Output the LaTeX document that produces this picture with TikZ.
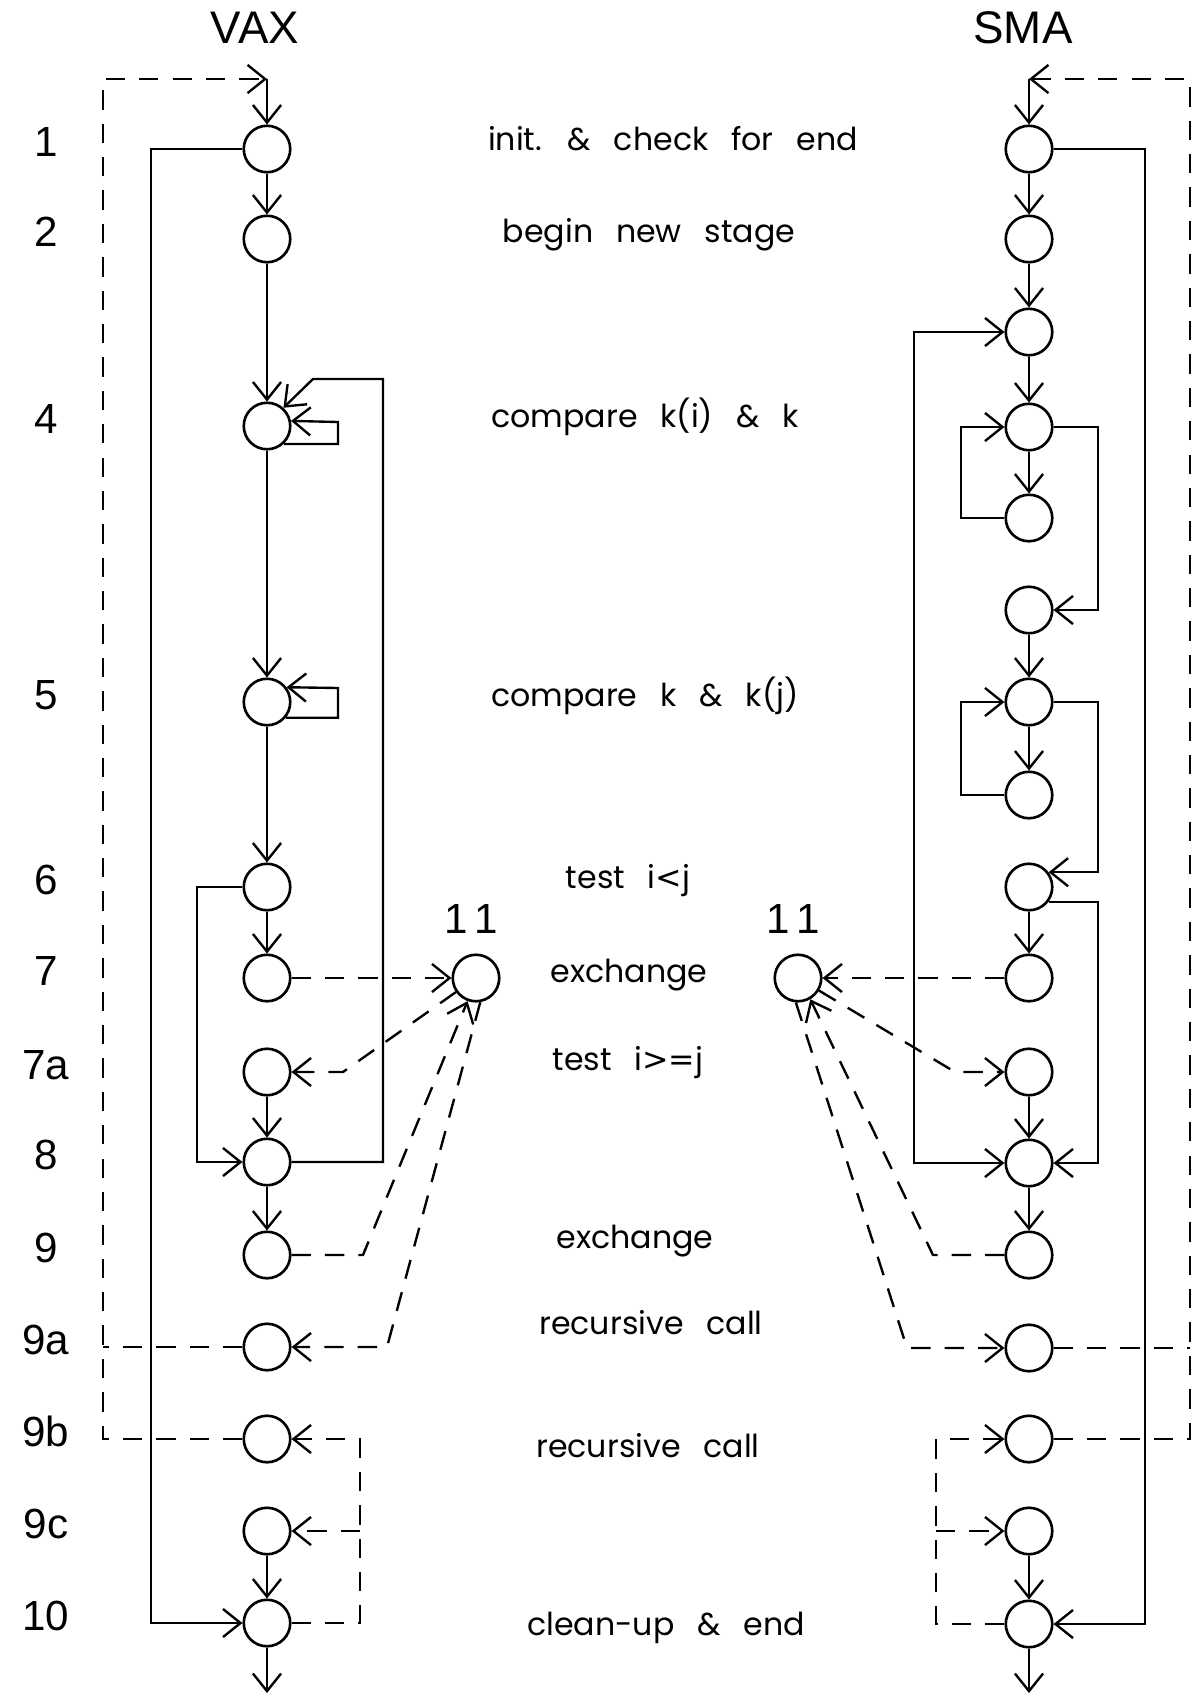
\documentclass[tikz,border=0pt]{standalone}
\usepackage{fontspec}
\setmainfont{Poppins}
\newfontfamily\numfont{Liberation Sans}
\newfontfamily\symfont{DejaVu Sans}
\newcommand\notefont{\fontsize{18}{22}\selectfont\spaceskip=13pt plus 2pt\relax}
\usetikzlibrary{arrows.meta, positioning}
\tikzset{
  every picture/.style={line width=1.35pt, >={Straight Barb[length=10pt, width=16pt]}},
  state/.style={draw, circle, minimum size=0.93cm, inner sep=0pt, line width=1.5pt},
  arrow/.style={->},
  twoway/.style={<->},
  dline/.style={dash pattern=on 11pt off 8pt},
  darrow/.style={->, dash pattern=on 11pt off 8pt},
  title/.style={font=\numfont\fontsize{26}{30}\selectfont, anchor=base},
  num/.style={font=\numfont\fontsize{24}{28}\selectfont, anchor=base},
  note/.style={font=\notefont, anchor=base},
}

\begin{document}
\begin{tikzpicture}[x=0.02cm, y=-0.02cm]
  \useasboundingbox (0,0) rectangle (1201,1701);

  \node[title] (tvax) at (255,43) {VAX};
  \node[title] (tsma) at (1023,43) {SMA};

  \foreach \n/\y in {1/149,2/239,4/426,5/702,6/887,7/978,7a/1072,8/1162,9/1255,9a/1347,9b/1439,9c/1531,10/1623}{
    \node[state] (v\n) at (267,\y) {};
    \node[num] (n\n) at (46,\y+7) {\n};
  }
  \foreach \n/\y in {1/149,2/239,3/332,4/427,4b/518,4c/610,5/702,5b/795,6/887,7/978,7a/1072,8/1163,9/1255,9a/1348,9b/1439,9c/1531,10/1624}
    \node[state] (s\n) at (1029,\y) {};

  \node[state] (xl) at (476,978) {};
  \node[state] (xr) at (798,978) {};
  \node[num] (lxl) at (471,933) {1\,1};
  \node[num] (lxr) at (793,933) {1\,1};

  \node[note] (l1) at (673,150) {init. \& check for end};
  \node[note] (l2) at (649,242) {begin new stage};
  \node[note] (l4) at (645,427) {compare k(i) \& k};
  \node[note] (l5) at (645,706) {compare k \& k(j)};
  \node[note] (l6) at (628,888) {test i{\symfont<}j};
  \node[note] (l7) at (629,982) {exchange};
  \node[note] (l7a) at (628,1070) {test i{\symfont>=}j};
  \node[note] (l9) at (635,1248) {exchange};
  \node[note] (l9a) at (651,1334) {recursive call};
  \node[note] (l9b) at (648,1457) {recursive call};
  \node[note] (l10) at (666,1635) {clean-up \& end};

  \coordinate (vtop) at (267,79);
  \coordinate (vbot) at (267,1693);
  \coordinate (stop) at (1029,79);
  \coordinate (sbot) at (1029,1693);
  \coordinate (vjoin) at (360,1531);
  \coordinate (sjoin) at (936,1531);

  % VAX side
  \draw[arrow] (vtop) -- (v1);
  \foreach \a/\b in {1/2,2/4,4/5,5/6,6/7,7a/8,8/9,9c/10}
    \draw[arrow] (v\a) -- (v\b);
  \draw[arrow] (v10) -- (vbot);
  \draw[arrow] (v1) -- (151,149) |- (v10);
  \draw[arrow] (v4.-47) -| (338,422) -- (v4.12);
  \draw[arrow] (v5.-40) -| (338,688) -- (v5.37);
  \draw[arrow] (v8) -- (383,1162) |- (313,379) -- (v4.48);
  \draw[arrow] (v6) -- (197,887) |- (v8);
  \draw[darrow] (v7) -- (xl);
  \draw[darrow] (xl.215) -- (343,1072) -- (v7a);
  \draw[darrow] (v9) -- (363,1255) -- (xl.-110);
  \draw[darrow] (xl.-80) -- (387,1347) -- (v9a);
  \draw[darrow] (v9b) -| (103,79) -- (vtop);
  \draw[dline] (v9a) -- (103,1347);
  \draw[darrow] (v10) -- (360,1623) |- (v9b);
  \draw[darrow] (vjoin) -- (v9c);

  % SMA side
  \draw[arrow] (stop) -- (s1);
  \foreach \a/\b in {1/2,2/3,3/4,4/4b,4c/5,5/5b,6/7,7a/8,8/9,9c/10}
    \draw[arrow] (s\a) -- (s\b);
  \draw[arrow] (s10) -- (sbot);
  \draw[arrow] (s1) -- (1145,149) |- (s10);
  \draw[twoway] (s3) -- (914,332) |- (s8);
  \draw[arrow] (s4b) -- (961,518) |- (s4);
  \draw[arrow] (s4) -- (1098,427) |- (s4c);
  \draw[arrow] (s5b) -- (961,795) |- (s5);
  \draw[arrow] (s5) -- (1098,702) |- (s6.37);
  \draw[arrow] (s6.-37) -| (1098,1163) -- (s8);
  \draw[darrow] (s7) -- (xr);
  \draw[darrow] (xr) -- (955,1072) -- (s7a);
  \draw[darrow] (s9) -- (933,1255) -- (xr.-60);
  \draw[darrow] (xr.-95) -- (907,1348) -- (s9a);
  \draw[darrow] (s9b) -| (1190,79) -- (stop);
  \draw[dline] (s9a) -- (1190,1348);
  \draw[darrow] (s10) -- (936,1624) |- (s9b);
  \draw[darrow] (sjoin) -- (s9c);
\end{tikzpicture}
\end{document}
